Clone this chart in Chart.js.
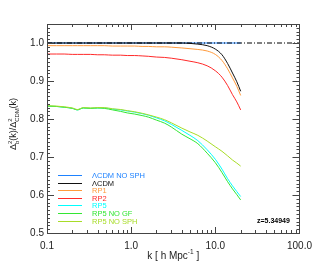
<!DOCTYPE html>
<html>
<head>
<meta charset="utf-8">
<script src="https://cdn.jsdelivr.net/npm/chart.js@4.4.1/dist/chart.umd.min.js"></script>
<style>
  html, body { margin: 0; padding: 0; background: #fff; }
  #wrap { width: 319px; height: 266px; }
</style>
</head>
<body>
<div id="wrap"><canvas id="myChart" width="319" height="266"></canvas></div>
<script>
// wavenumbers k [h/Mpc] where the curves were sampled
const kValues = [0.1, 0.13, 0.16, 0.2, 0.23, 0.27, 0.33, 0.4, 0.48, 0.6, 0.75, 0.9, 1.1, 1.35, 1.6, 2, 2.5, 3, 4, 5, 6.2, 8, 10, 12, 14, 16, 18, 20];

// ratio Delta_b^2 / Delta_CDM^2 for each run
const lcdmNoSph = [1, 1, 1, 1, 1, 1, 1, 1, 1, 1, 1, 1, 1, 1, 1, 1, 1, 1, 1, 1, 1, 1, 1, 1, 1, 1, 1, 1];
const lcdm = [1, 1, 1, 1, 1, 1, 1, 1, 1, 1, 1, 1, 1, 1, 1, 1, 1, 1, 1, 0.999, 0.997, 0.993, 0.984, 0.969, 0.946, 0.921, 0.898, 0.873];
const rp1 = [0.993, 0.993, 0.993, 0.993, 0.993, 0.993, 0.993, 0.993, 0.993, 0.992, 0.992, 0.992, 0.992, 0.991, 0.991, 0.990, 0.990, 0.989, 0.987, 0.985, 0.983, 0.979, 0.970, 0.954, 0.932, 0.908, 0.886, 0.862];
const rp2 = [0.971, 0.971, 0.971, 0.970, 0.970, 0.970, 0.970, 0.969, 0.969, 0.968, 0.968, 0.967, 0.967, 0.966, 0.965, 0.963, 0.962, 0.960, 0.956, 0.952, 0.948, 0.940, 0.927, 0.910, 0.888, 0.864, 0.845, 0.824];
const rp5 = [0.834, 0.833, 0.831, 0.828, 0.824, 0.829, 0.828, 0.829, 0.829, 0.826, 0.824, 0.821, 0.818, 0.814, 0.810, 0.803, 0.795, 0.786, 0.770, 0.757, 0.743, 0.719, 0.694, 0.668, 0.643, 0.624, 0.609, 0.596];
const rp5NoGf = [0.834, 0.833, 0.831, 0.828, 0.824, 0.829, 0.828, 0.829, 0.828, 0.824, 0.820, 0.816, 0.813, 0.809, 0.805, 0.797, 0.789, 0.779, 0.760, 0.748, 0.735, 0.710, 0.685, 0.659, 0.635, 0.616, 0.601, 0.587];
const rp5NoSph = [0.835, 0.834, 0.832, 0.829, 0.825, 0.830, 0.829, 0.830, 0.830, 0.827, 0.825, 0.822, 0.819, 0.815, 0.811, 0.805, 0.798, 0.790, 0.776, 0.766, 0.757, 0.742, 0.727, 0.715, 0.703, 0.692, 0.684, 0.676];

// dash-dot reference line at 1
const refK = [0.1, 100];
const refRatio = [1, 1];

const seriesNames = ['\u039BCDM NO SPH', '\u039BCDM', 'RP1', 'RP2', 'RP5', 'RP5 NO GF', 'RP5 NO SPH'];
const seriesColors = ['#1e82ff', '#111111', '#ff9a3c', '#ff2a2a', '#00ffff', '#33e633', '#a8dc28'];
const seriesValues = [lcdmNoSph, lcdm, rp1, rp2, rp5, rp5NoGf, rp5NoSph];

const xTickValues = [0.1, 1, 10, 100];
const xTickLabels = ['0.1', '1.0', '10.0', '100.0'];
const yTickValues = [0.5, 0.6, 0.7, 0.8, 0.9, 1.0];
const yTickLabels = ['0.5', '0.6', '0.7', '0.8', '0.9', '1.0'];
const redshiftLabel = 'z=5.34949';

const FONT = '"Liberation Sans", Arial, sans-serif';

// draws text with stacked super/subscripts, e.g. Delta^2_b
function richWidth(ctx, parts, size) {
  let w = 0;
  parts.forEach(p => {
    if (p.t !== undefined) {
      ctx.font = size + 'px ' + FONT;
      w += ctx.measureText(p.t).width;
    } else {
      ctx.font = (size * 0.65) + 'px ' + FONT;
      w += Math.max(p.sup ? ctx.measureText(p.sup).width : 0, p.sub ? ctx.measureText(p.sub).width : 0);
    }
  });
  return w;
}
function drawRich(ctx, parts, cx, cy, size) {
  let x = cx - richWidth(ctx, parts, size) / 2;
  ctx.textBaseline = 'middle';
  ctx.textAlign = 'left';
  parts.forEach(p => {
    if (p.t !== undefined) {
      ctx.font = size + 'px ' + FONT;
      ctx.fillText(p.t, x, cy);
      x += ctx.measureText(p.t).width;
    } else {
      ctx.font = (size * 0.65) + 'px ' + FONT;
      let w = 0;
      if (p.sup) { ctx.fillText(p.sup, x, cy - size * 0.42); w = ctx.measureText(p.sup).width; }
      if (p.sub) { ctx.fillText(p.sub, x, cy + size * 0.35); w = Math.max(w, ctx.measureText(p.sub).width); }
      x += w;
    }
  });
}

// IDL style frame: box with inward major/minor ticks on all four sides
const framePlugin = {
  id: 'frame',
  afterDatasetsDraw(chart) {
    const { ctx, chartArea: a, scales } = chart;
    const xs = scales.x, ys = scales.y;
    ctx.save();
    ctx.setLineDash([]);
    ctx.strokeStyle = '#444';
    ctx.lineWidth = 1;
    ctx.strokeRect(Math.round(a.left) + 0.5, Math.round(a.top) + 0.5, Math.round(a.right - a.left), Math.round(a.bottom - a.top));
    ctx.beginPath();
    // x ticks
    for (let d = -1; d < 2; d++) {
      for (let m = 1; m <= 10; m++) {
        const v = m * Math.pow(10, d);
        const px = Math.round(xs.getPixelForValue(v)) + 0.5;
        const len = (m === 1 || m === 10) ? 6 : 3;
        ctx.moveTo(px, a.bottom); ctx.lineTo(px, a.bottom - len);
        ctx.moveTo(px, a.top); ctx.lineTo(px, a.top + len);
      }
    }
    // y ticks
    for (let i = 50; i <= 105; i++) {
      const v = i / 100;
      const py = Math.round(ys.getPixelForValue(v)) + 0.5;
      const len = (i % 10 === 0) ? 7 : 3;
      ctx.moveTo(a.left, py); ctx.lineTo(a.left + len, py);
      ctx.moveTo(a.right, py); ctx.lineTo(a.right - len, py);
    }
    ctx.stroke();

    // legend inside the plot
    const lx = Math.round(a.left) + 11, ly = 175, step = 7.6;
    ctx.font = '7.5px ' + FONT;
    ctx.textBaseline = 'middle';
    ctx.textAlign = 'left';
    seriesNames.forEach((name, i) => {
      const y = Math.round(ly + i * step);
      ctx.fillStyle = seriesColors[i];
      ctx.fillRect(lx, y, 24, 1);
      ctx.fillText(name, lx + 34, y + 1);
    });

    // redshift label
    ctx.fillStyle = '#000';
    ctx.font = 'bold 7px ' + FONT;
    ctx.fillText(redshiftLabel, 257, 221);

    // axis titles
    ctx.fillStyle = '#222';
    drawRich(ctx, [{ t: 'k [ h Mpc' }, { sup: '-1' }, { t: ' ]' }], (a.left + a.right) / 2, 256, 10);
    ctx.translate(14, 124);
    ctx.rotate(-Math.PI / 2);
    drawRich(ctx, [{ t: '\u0394' }, { sup: '2', sub: 'b' }, { t: '(k)/\u0394' }, { sup: '2', sub: 'CDM' }, { t: '(k)' }], 0, 0, 9);
    ctx.restore();
  }
};

const datasets = seriesValues.map((vals, i) => ({
  label: seriesNames[i],
  data: kValues.map((k, j) => ({ x: k, y: vals[j] })),
  borderColor: seriesColors[i],
  borderWidth: 1,
  pointRadius: 0,
  cubicInterpolationMode: 'monotone',
  fill: false,
  order: 10 - i
}));
datasets.unshift({
  label: 'ref',
  data: refK.map((k, j) => ({ x: k, y: refRatio[j] })),
  borderColor: '#000',
  borderWidth: 1,
  borderDash: [5, 2, 1, 2],
  pointRadius: 0,
  order: 0
});

const ctx = document.getElementById('myChart').getContext('2d');
const myChart = new Chart(ctx, {
  type: 'line',
  data: { datasets },
  options: {
    responsive: false,
    animation: false,
    layout: { padding: { top: 24, right: 15, left: 0, bottom: 0 } },
    plugins: { legend: { display: false }, tooltip: { enabled: false } },
    scales: {
      x: {
        type: 'logarithmic',
        min: 0.1,
        max: 100,
        grid: { display: false, drawTicks: false },
        border: { display: false },
        afterBuildTicks: s => { s.ticks = xTickValues.map(v => ({ value: v })); },
        afterFit: s => { s.height = 33; },
        ticks: {
          autoSkip: false,
          maxRotation: 0,
          padding: 7,
          color: '#222',
          font: { family: FONT, size: 10 },
          callback: v => xTickLabels[xTickValues.indexOf(v)]
        }
      },
      y: {
        type: 'linear',
        min: 0.5,
        max: 1.05,
        grid: { display: false, drawTicks: false },
        border: { display: false },
        afterBuildTicks: s => { s.ticks = yTickValues.map(v => ({ value: v })); },
        afterFit: s => { s.width = 47; },
        ticks: {
          padding: 3,
          color: '#222',
          font: { family: FONT, size: 10 },
          callback: v => yTickLabels[yTickValues.indexOf(v)]
        }
      }
    }
  },
  plugins: [framePlugin]
});
</script>
</body>
</html>
